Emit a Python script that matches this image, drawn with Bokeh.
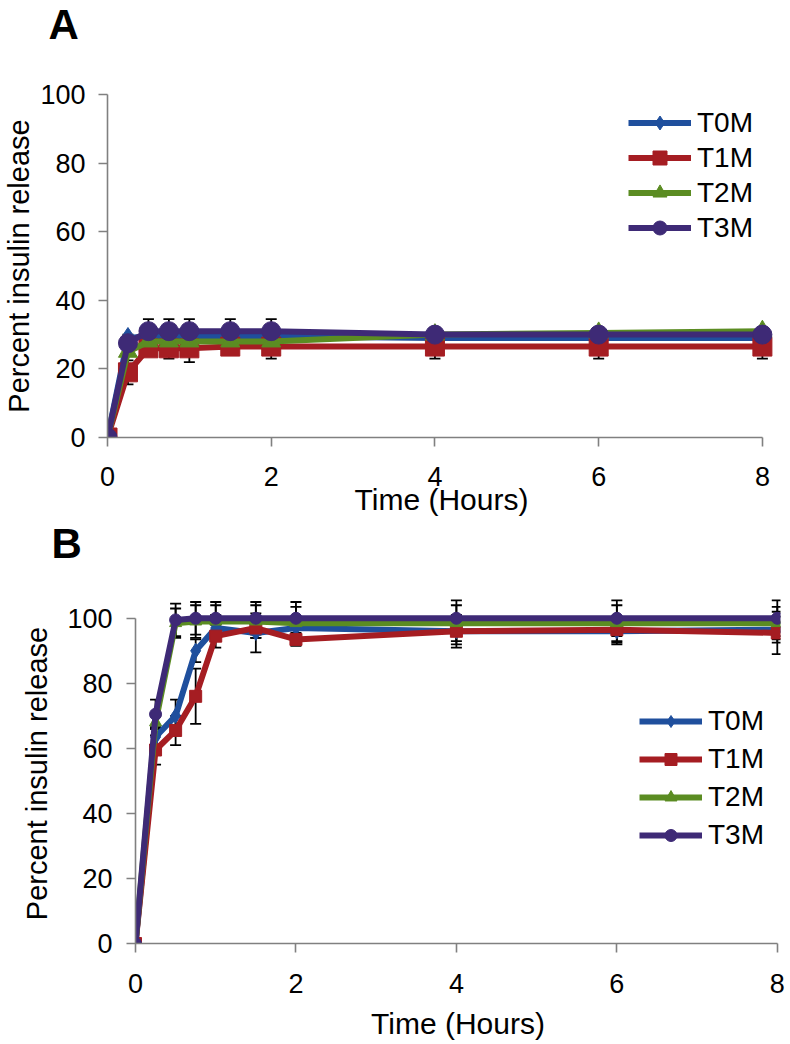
from bokeh.plotting import figure
from bokeh.layouts import column
from bokeh.models import (ColumnDataSource, Whisker, TeeHead, Legend, LegendItem, Range1d, Title,
                          LinearAxis, FixedTicker)
from bokeh.embed import file_html
from bokeh.resources import INLINE

# ---------------- data ----------------
time_h = [0, 0.25, 0.5, 0.75, 1, 1.5, 2, 4, 6, 8]
series_names = ["T0M", "T1M", "T2M", "T3M"]
x_ticks = [0, 2, 4, 6, 8]
y_ticks = [0, 20, 40, 60, 80, 100]

# Panel A
a_t0m = [0, 29, 29.5, 29.5, 29.5, 29.5, 29.5, 29, 29, 29]
a_t1m = [0, 19, 26, 26, 26, 26.5, 26.5, 26.5, 26.5, 26.5]
a_t2m = [0, 25, 28, 28, 28, 28, 28, 30, 30.5, 31]
a_t3m = [0, 27.5, 31, 31, 31, 31, 31, 30, 30, 30]
a_err_t0m = [0, 1, 1, 1, 1, 1, 1, 1, 1, 1]
a_err_t1m = [0, 3.5, 1, 3, 4, 1, 3.5, 3.5, 3.5, 3.5]
a_err_t2m = [0, 1, 1, 1, 1, 1, 1, 1, 1, 1]
a_err_t3m = [0, 1, 3.5, 3.5, 3.5, 3.5, 3.5, 2, 2, 2]

# Panel B
b_t0m = [0, 63.5, 70, 90, 97, 95.5, 97, 96, 96, 96.5]
b_t1m = [0, 59.5, 65.5, 76, 94.5, 97, 93.5, 96, 96.5, 95.5]
b_t2m = [0, 68, 98.5, 99, 99, 99, 98.5, 98.5, 98.5, 98.5]
b_t3m = [0, 70.5, 99.5, 100, 100, 100, 100, 100, 100, 100]
b_err_t0m = [0, 3, 5, 3.5, 4, 6, 3, 5, 4, 4]
b_err_t1m = [0, 4.5, 4.5, 8.5, 3.5, 3, 2, 4, 4, 6.5]
b_err_t2m = [0, 2, 4.5, 5, 5, 5, 5, 5.5, 5.5, 5]
b_err_t3m = [0, 4.5, 5, 5, 5, 5, 5, 5.5, 5.5, 5.5]

colors = ["#1f4f9d", "#a51d22", "#5b8c22", "#3e2a76"]
markers = ["diamond", "square", "triangle", "circle"]

FONT = "Liberation Sans"
AXIS_GREY = "#808080"


def make_panel(letter, vals, errs, *, height, frame_left, frame_top, frame_bottom,
               border_right, x_end, y_end, ytitle, marker_sizes, lw,
               legend_loc, glyph_h, leg_spacing, letter_offset, letter_standoff, spacer,
               title_standoff, tick_standoff, ytick_standoff):
    p = figure(width=790, height=height, output_backend="svg", toolbar_location=None,
               x_range=Range1d(0, x_end), y_range=Range1d(0, y_end),
               min_border_left=frame_left, min_border_top=frame_top,
               min_border_bottom=frame_bottom, min_border_right=border_right)
    try:
        p.frame_align = False
    except Exception:
        pass
    p.outline_line_color = None
    p.grid.visible = False
    p.background_fill_color = "white"
    p.border_fill_color = "white"

    xa = p.below[0]
    ya = p.left[0]
    for ax in (xa, ya):
        ax.axis_line_color = AXIS_GREY
        ax.axis_line_width = 1.6
        ax.major_tick_line_color = AXIS_GREY
        ax.major_tick_line_width = 1.6
        ax.major_tick_out = 9
        ax.major_tick_in = 0
        ax.minor_tick_line_color = None
        ax.major_label_text_font = FONT
        ax.major_label_text_font_size = "27px"
        ax.major_label_text_color = "black"
        ax.axis_label_text_font = FONT
        ax.axis_label_text_font_style = "normal"
        ax.axis_label_text_color = "black"
    xa.axis_label_text_font_size = "30px"
    ya.axis_label_text_font_size = "29px"

    xa.ticker = FixedTicker(ticks=x_ticks)
    ya.ticker = FixedTicker(ticks=y_ticks)
    xa.bounds = (0, 8)
    ya.bounds = (0, 100)
    xa.axis_label = "Time (Hours)"
    ya.axis_label = ytitle
    xa.major_label_standoff = tick_standoff
    ya.major_label_standoff = ytick_standoff
    xa.axis_label_standoff = title_standoff[0]
    ya.axis_label_standoff = title_standoff[1]

    # panel letter as the plot title (outermost in the top border)
    p.title = Title(text=letter, align="left", offset=letter_offset, standoff=letter_standoff,
                    text_font=FONT, text_font_size="42px", text_font_style="bold",
                    text_color="black")
    # a blank axis above the frame acts as a spacer between the letter and the frame
    spacer_axis = LinearAxis(ticker=FixedTicker(ticks=[8]), major_label_overrides={8: ""},
                             major_label_text_font_size="1px", major_label_standoff=0,
                             axis_line_color=None, minor_tick_line_color=None,
                             major_tick_line_color="white", major_tick_line_width=1,
                             major_tick_out=spacer, major_tick_in=0)
    p.add_layout(spacer_axis, "above")

    for ys, es in zip(vals, errs):
        xs_e = [t for t, e in zip(time_h, es) if e > 0]
        up = [y + e for y, e in zip(ys, es) if e > 0]
        lo = [y - e for y, e in zip(ys, es) if e > 0]
        esrc = ColumnDataSource(dict(x=xs_e, upper=up, lower=lo))
        w = Whisker(base="x", upper="upper", lower="lower", source=esrc,
                    line_color="black", line_width=1.8, level="underlay",
                    upper_head=TeeHead(size=11, line_color="black", line_width=1.8),
                    lower_head=TeeHead(size=11, line_color="black", line_width=1.8))
        p.add_layout(w)

    items = []
    for name, ys, col, mk, ms in zip(series_names, vals, colors, markers, marker_sizes):
        src = ColumnDataSource(dict(x=time_h, y=ys))
        lr = p.line("x", "y", source=src, line_color=col, line_width=lw, line_join="round")
        sr = p.scatter("x", "y", source=src, marker=mk, size=ms, fill_color=col, line_color=col)
        items.append(LegendItem(label=name, renderers=[lr, sr]))

    leg = Legend(items=items, location=legend_loc, glyph_width=63, glyph_height=glyph_h,
                 spacing=leg_spacing, padding=0, margin=0, label_standoff=6,
                 label_text_font=FONT, label_text_font_size="28px", label_text_color="black",
                 border_line_color=None, background_fill_alpha=0)
    p.add_layout(leg, "center")
    return p


pa = make_panel("A", [a_t0m, a_t1m, a_t2m, a_t3m], [a_err_t0m, a_err_t1m, a_err_t2m, a_err_t3m],
                height=520, frame_left=107, frame_top=94, frame_bottom=83, border_right=15,
                x_end=8.16, y_end=100, ytitle="Percent insulin release",
                marker_sizes=[21, 19, 19, 19], lw=6,
                legend_loc=(521, 192), glyph_h=35, leg_spacing=0,
                letter_offset=-59, letter_standoff=-10, spacer=52,
                title_standoff=(-6, 2), tick_standoff=20, ytick_standoff=13)

pb = make_panel("B", [b_t0m, b_t1m, b_t2m, b_t3m], [b_err_t0m, b_err_t1m, b_err_t2m, b_err_t3m],
                height=524, frame_left=135, frame_top=75, frame_bottom=101, border_right=10,
                x_end=8.04, y_end=107, ytitle="Percent  insulin release",
                marker_sizes=[15, 12, 12, 12], lw=6,
                legend_loc=(504, 92), glyph_h=30, leg_spacing=6,
                letter_offset=-84, letter_standoff=-12, spacer=35,
                title_standoff=(11, 11), tick_standoff=21, ytick_standoff=14)

layout = column(pa, pb, spacing=0)
open("out.html", "w").write(file_html(layout, INLINE))
